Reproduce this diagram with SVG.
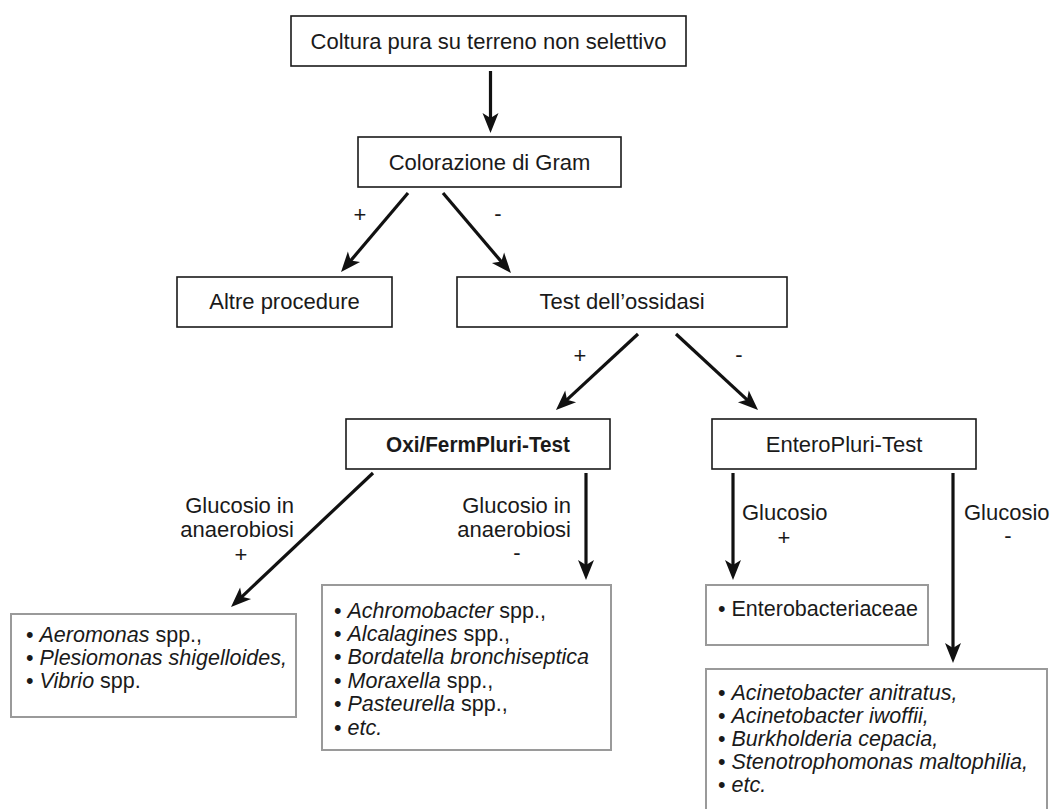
<svg xmlns="http://www.w3.org/2000/svg" width="1052" height="809" viewBox="0 0 1052 809">
<style>
text{font-family:"Liberation Sans",Arial,sans-serif;fill:#1a1a1a;font-size:22px}
.c{text-anchor:middle}
.r{text-anchor:end}
.box{fill:#fff;stroke:#1a1a1a;stroke-width:1.6}
.lbox{fill:#fff;stroke:#9a9a9a;stroke-width:2}
.li{font-size:21.5px}
.i{font-style:italic}
.arr{stroke:#111;stroke-width:3.2;fill:none;marker-end:url(#ah)}
</style>
<defs>
<marker id="ah" markerUnits="userSpaceOnUse" viewBox="-12 -10 24 20" markerWidth="24" markerHeight="20" refX="0" refY="0" orient="auto">
<path d="M10,0 L-10,-8 L-5,0 L-10,8 Z" fill="#111"/>
</marker>
</defs>
<rect width="1052" height="809" fill="#fff"/>
<g id="connectors">
<line class="arr" x1="490.5" y1="71" x2="490.5" y2="123"/>
<line class="arr" x1="408" y1="193" x2="347.5" y2="264.4"/>
<line class="arr" x1="443" y1="193" x2="504.5" y2="265.4"/>
<line class="arr" x1="638" y1="334" x2="563.3" y2="403.2"/>
<line class="arr" x1="676" y1="334" x2="750.7" y2="403.2"/>
<line class="arr" x1="373" y1="473" x2="238.3" y2="600.1"/>
<line class="arr" x1="586" y1="473" x2="586" y2="570"/>
<line class="arr" x1="733" y1="473" x2="733" y2="570"/>
<line class="arr" x1="953" y1="473" x2="953" y2="653"/>
<text class="c" x="360" y="222">+</text>
<text class="c" x="498" y="221">-</text>
<text class="c" x="580" y="363">+</text>
<text class="c" x="739" y="362">-</text>
<text class="r" x="294" y="513">Glucosio in</text>
<text class="r" x="294" y="537">anaerobiosi</text>
<text class="c" x="241" y="562">+</text>
<text class="r" x="571" y="513">Glucosio in</text>
<text class="r" x="571" y="537">anaerobiosi</text>
<text class="c" x="517" y="560">-</text>
<text x="742" y="520">Glucosio</text>
<text class="c" x="784" y="545">+</text>
<text x="964" y="520">Glucosio</text>
<text class="c" x="1008" y="543">-</text>
</g>
<g id="n1"><rect class="box" x="291" y="16" width="395" height="50"/><text class="c" x="488.5" y="49">Coltura pura su terreno non selettivo</text></g>
<g id="n2"><rect class="box" x="358" y="137" width="263" height="50"/><text class="c" x="489.5" y="170">Colorazione di Gram</text></g>
<g id="n3"><rect class="box" x="177" y="277" width="215" height="50"/><text class="c" x="284.5" y="309">Altre procedure</text></g>
<g id="n4"><rect class="box" x="457" y="277" width="330" height="50"/><text class="c" x="622" y="309">Test dell’ossidasi</text></g>
<g id="n5"><rect class="box" x="346" y="419" width="264" height="50"/><text class="c" x="478" y="452" font-weight="bold" font-size="21" textLength="184" lengthAdjust="spacingAndGlyphs">Oxi/FermPluri-Test</text></g>
<g id="n6"><rect class="box" x="712" y="419" width="264" height="50"/><text class="c" x="844" y="452">EnteroPluri-Test</text></g>
<g id="n7"><rect class="lbox" x="11" y="614" width="285" height="103"/>
<text class="li" x="26" y="642">• <tspan class="i">Aeromonas</tspan> spp.,</text>
<text class="li" x="26" y="665">• <tspan class="i">Plesiomonas shigelloides,</tspan></text>
<text class="li" x="26" y="688">• <tspan class="i">Vibrio</tspan> spp.</text>
</g>
<g id="n8"><rect class="lbox" x="322" y="585" width="289" height="165"/>
<text class="li" x="334" y="618">• <tspan class="i">Achromobacter</tspan> spp.,</text>
<text class="li" x="334" y="641">• <tspan class="i">Alcalagines</tspan> spp.,</text>
<text class="li" x="334" y="664">• <tspan class="i">Bordatella bronchiseptica</tspan></text>
<text class="li" x="334" y="688">• <tspan class="i">Moraxella</tspan> spp.,</text>
<text class="li" x="334" y="711">• <tspan class="i">Pasteurella</tspan> spp.,</text>
<text class="li" x="334" y="735">• <tspan class="i">etc.</tspan></text>
</g>
<g id="n9"><rect class="lbox" x="706" y="585" width="222" height="60"/>
<text class="li" x="718" y="616">• Enterobacteriaceae</text>
</g>
<g id="n10"><rect class="lbox" x="706" y="669" width="341" height="160"/>
<text class="li" x="718" y="700">• <tspan class="i">Acinetobacter anitratus,</tspan></text>
<text class="li" x="718" y="723">• <tspan class="i">Acinetobacter iwoffii,</tspan></text>
<text class="li" x="718" y="746">• <tspan class="i">Burkholderia cepacia,</tspan></text>
<text class="li" x="718" y="769">• <tspan class="i">Stenotrophomonas maltophilia,</tspan></text>
<text class="li" x="718" y="792">• <tspan class="i">etc.</tspan></text>
</g>
</svg>
